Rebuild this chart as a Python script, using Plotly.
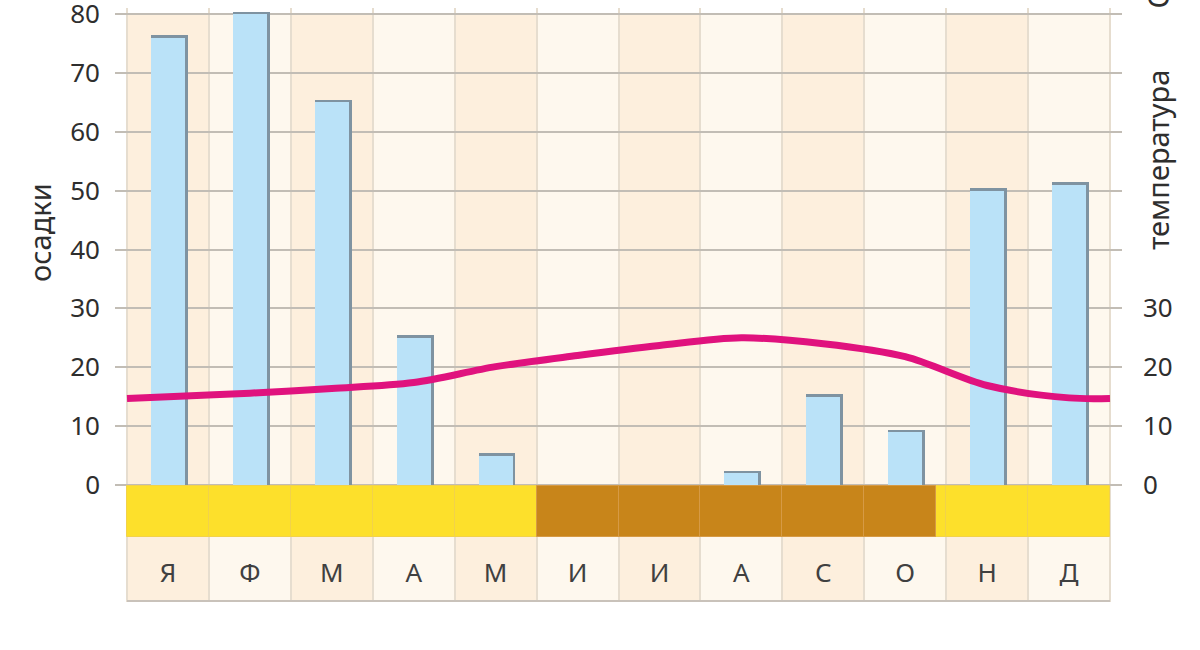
import plotly.graph_objects as go

# ---- data ----
months = ["Я", "Ф", "М", "А", "М", "И", "И", "А", "С", "О", "Н", "Д"]
precip = [76, 80, 65, 25, 5, 0, 0, 2, 15, 9, 50, 51]          # осадки, мм
temp_x = [-0.5, 0, 1, 2, 3, 4, 5, 6, 7, 8, 9, 10, 11, 11.5]   # month positions where the line was read
temp = [14.7, 15.0, 15.6, 16.4, 17.4, 20.1, 22.0, 23.7, 25.0, 24.0, 21.8, 16.9, 14.8, 14.7]
dry_fraction = [0, 0, 0, 0, 0, 1, 1, 1, 1, 0.88, 0, 0]         # share of month in dry season
left_ticks = [0, 10, 20, 30, 40, 50, 60, 70, 80]
right_ticks = [0, 10, 20, 30]

# ---- style ----
BAR_W = 0.415
SHADOW_DW = 0.035
SHADOW_DH = 0.4
BAND_TOP = -0.2
BAND_BOT = -8.8
LABEL_Y = -15.4
YMIN, YMAX = -19.87, 81.02
XMIN, XMAX = -0.6465, 11.6465
FONT = "Noto Sans"
TXT = "#2e2e2e"

n = len(months)
idx = list(range(n))

fig = go.Figure()

# seasonal band: wet (yellow) base, dry (brown) overlay
fig.add_trace(go.Bar(
    x=idx, y=[BAND_TOP - BAND_BOT] * n, base=BAND_BOT, width=1,
    marker=dict(color="#fde02b", line=dict(color="#f2d24a", width=1)),
    hoverinfo="skip", showlegend=False))
fig.add_trace(go.Bar(
    x=idx, y=[(BAND_TOP - BAND_BOT) if f > 0 else 0 for f in dry_fraction],
    base=BAND_BOT, width=dry_fraction, offset=[-0.5] * n,
    marker=dict(color="#c8851a", line=dict(color="#d69a45", width=[1 if f > 0 else 0 for f in dry_fraction])),
    hoverinfo="skip", showlegend=False))

# bar shadow (top & right edges) then bars
fig.add_trace(go.Bar(
    x=idx, y=[v + SHADOW_DH if v > 0 else 0 for v in precip],
    width=BAR_W + SHADOW_DW, offset=-BAR_W / 2,
    marker=dict(color="#7f93a1", line=dict(width=0)),
    hoverinfo="skip", showlegend=False))
fig.add_trace(go.Bar(
    x=idx, y=precip, width=BAR_W, offset=-BAR_W / 2,
    marker=dict(color="#bae2f8", line=dict(width=0)),
    name="осадки", showlegend=False))

# temperature line
fig.add_trace(go.Scatter(
    x=temp_x, y=temp, mode="lines", yaxis="y2",
    line=dict(color="#e0127e", width=7, shape="spline", smoothing=0.9),
    name="температура", showlegend=False))

# month letters
fig.add_trace(go.Scatter(
    x=idx, y=[LABEL_Y] * n, mode="text", text=months,
    textfont=dict(family=FONT, size=26, color="#404040"),
    hoverinfo="skip", showlegend=False))

# column backgrounds
shapes = []
for i in idx:
    col = "#fdefdd" if i % 2 == 0 else "#fef8ee"
    shapes.append(dict(type="rect", xref="x", yref="y", x0=i - 0.5, x1=i + 0.5,
                       y0=YMIN, y1=80, fillcolor=col, line=dict(width=0), layer="below"))
# bottom border line
shapes.append(dict(type="line", xref="x", yref="y", x0=-0.5, x1=n - 0.5, y0=YMIN + 0.15, y1=YMIN + 0.15,
                   line=dict(color="#c9c2ba", width=2), layer="above"))

fig.update_layout(
    width=1200, height=650,
    margin=dict(l=115, r=78, t=8, b=48, autoexpand=False),
    paper_bgcolor="white", plot_bgcolor="white",
    barmode="overlay", bargap=0,
    shapes=shapes,
    xaxis=dict(range=[XMIN, XMAX], showticklabels=False, showgrid=False, zeroline=False,
               tickvals=idx, ticks="", automargin=False,
               minor=dict(tickvals=[i - 0.5 for i in range(n + 1)], showgrid=True,
                          gridcolor="#e6ddcf", gridwidth=1.5, ticks="")),
    yaxis=dict(range=[YMIN, YMAX], tickvals=left_ticks, showgrid=True, gridcolor="#c2bdb5",
               gridwidth=1.6, zeroline=False, ticks="", ticklabelstandoff=14, automargin=False,
               ticklabeloverflow="allow",
               tickfont=dict(family=FONT, size=26, color=TXT)),
    yaxis2=dict(range=[YMIN, YMAX], overlaying="y", side="right", tickvals=right_ticks,
                showgrid=False, zeroline=False, ticks="", ticklabelstandoff=20, automargin=False,
                ticklabeloverflow="allow",
                tickfont=dict(family=FONT, size=26, color=TXT)),
    annotations=[
        dict(text="осадки", xref="paper", yref="paper", x=-0.0745, y=0.623, textangle=-90,
             xanchor="center", yanchor="middle",
             showarrow=False, font=dict(family=FONT, size=29, color=TXT)),
        dict(text="температура", xref="paper", yref="paper", x=1.0348, y=0.744, textangle=-90,
             xanchor="center", yanchor="middle",
             showarrow=False, font=dict(family=FONT, size=29, color=TXT)),
        dict(text="С", xref="paper", yref="paper", x=1.0348, y=0.995, yanchor="bottom",
             xanchor="center",
             textangle=-90, showarrow=False, font=dict(family=FONT, size=29, color=TXT)),
    ],
)

fig.write_html("out.html", config={"displayModeBar": False},
               post_script="document.body.style.margin='0px';")
